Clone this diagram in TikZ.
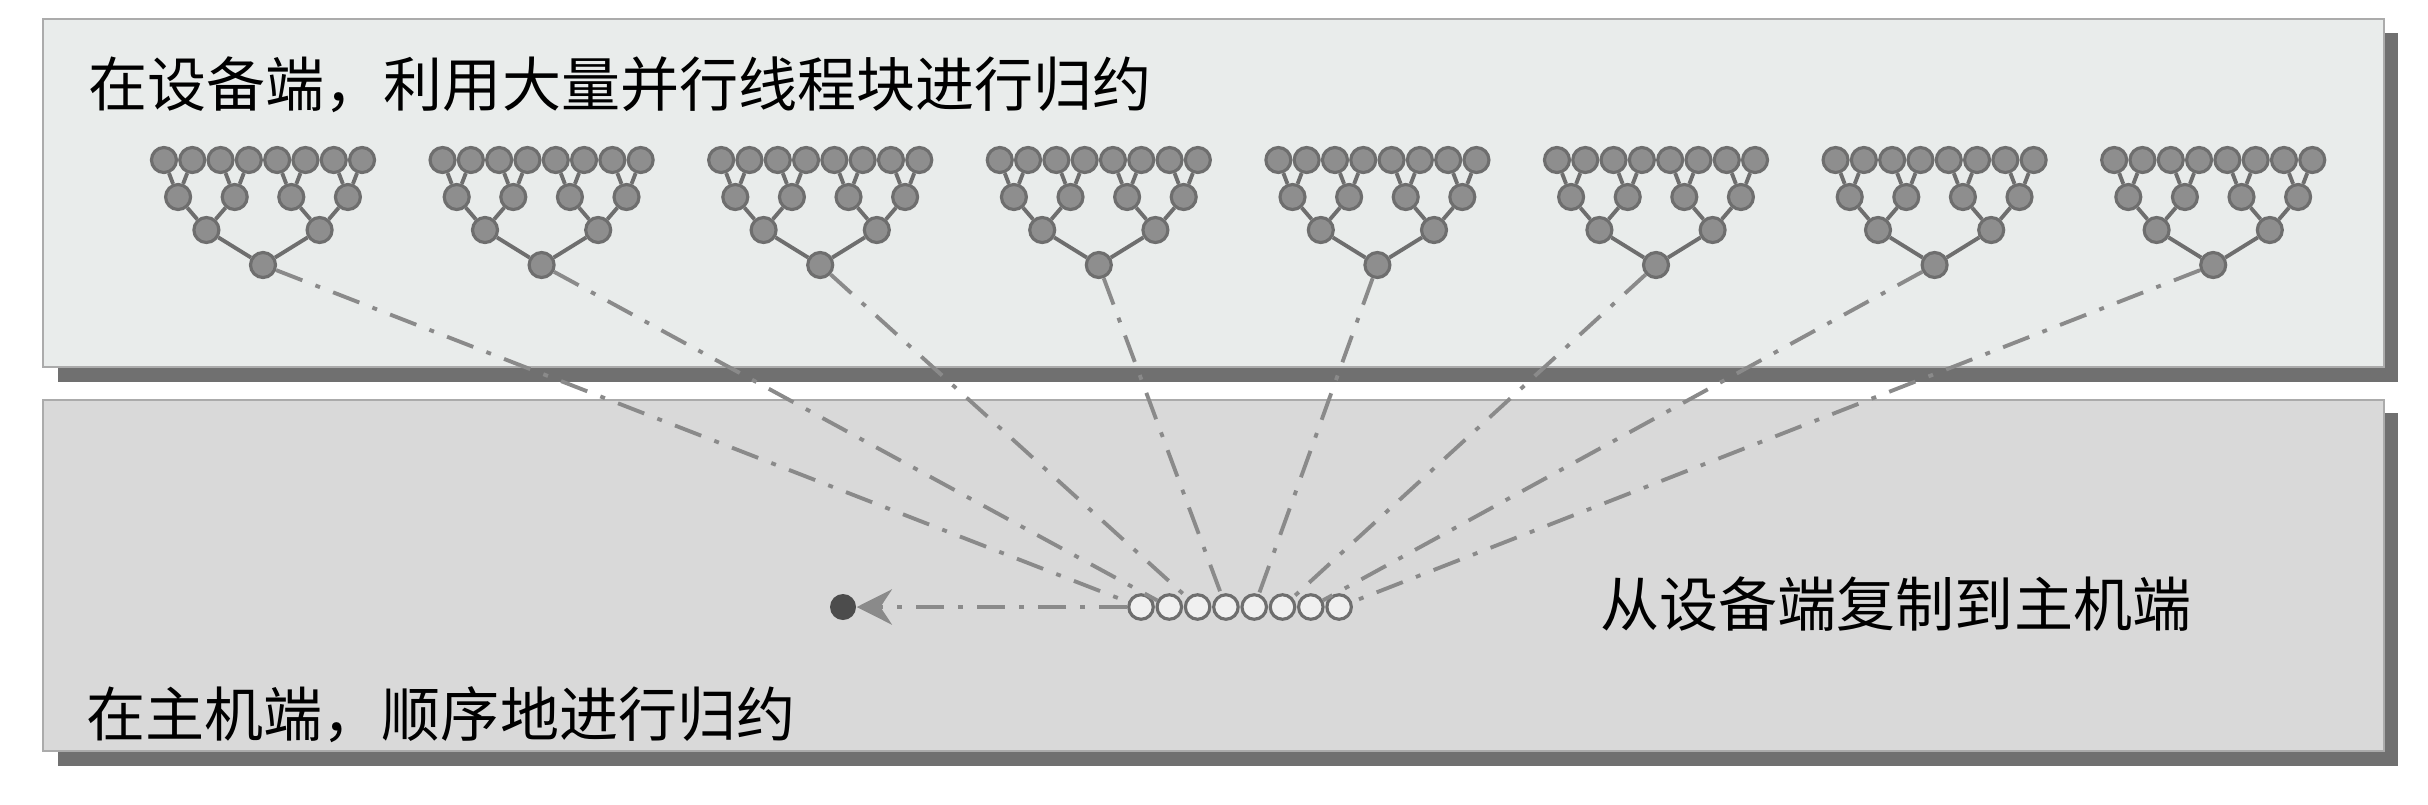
\documentclass[tikz,border=0pt]{standalone}
\usepackage{fontspec}
\newfontfamily\cjk{Noto Sans CJK SC}
\usepackage{tikz}
\usetikzlibrary{arrows.meta,calc}

\definecolor{devfill}{HTML}{E9ECEB}
\definecolor{hostfill}{HTML}{D9D9D9}
\definecolor{edgegray}{HTML}{ABABAB}
\definecolor{shadowgray}{HTML}{707070}
\definecolor{nodegray}{HTML}{8E8E8E}
\definecolor{linegray}{HTML}{6E6E6E}
\definecolor{copygray}{HTML}{8A8A8A}

\tikzset{
    panel/.style={draw=edgegray, line width=0.8pt},
    shade/.style={fill=shadowgray, draw=none},
    tnode/.style={circle, draw=linegray, fill=nodegray, line width=0.9pt, inner sep=0pt, minimum size=0.25cm},
    hnode/.style={circle, draw=linegray, fill=white!94!black, line width=0.9pt, inner sep=0pt, minimum size=0.245cm},
    tedge/.style={draw=linegray, line width=1.1pt},
    copyline/.style={draw=copygray, line width=1.1pt, dash pattern=on 8pt off 4pt on 1.4pt off 4pt},
    label/.style={font=\cjk\fontsize{16.8}{20}\selectfont, anchor=west, inner sep=0pt}
}

\begin{document}
\begin{tikzpicture}
    \useasboundingbox (0,0) rectangle (24.28,8.04);
    %%panels
    \fill[shade] (0.58,4.22) rectangle (23.98,7.71);
    \fill[devfill, panel] (0.43,4.37) rectangle (23.84,7.85);
    \fill[shade] (0.58,0.38) rectangle (23.98,3.91);
    \fill[hostfill, panel] (0.43,0.53) rectangle (23.84,4.04);
    %%texts
    \node[label] (devtext) at (0.88,7.19) {在设备端，利用大量并行线程块进行归约};
    \node[label] (hosttext) at (0.86,0.89) {在主机端，顺序地进行归约};
    \node[label] (copytext) at (16.0,2.0) {从设备端复制到主机端};
    %%trees
    \foreach \i in {1,...,8} {
        \pgfmathsetmacro{\cx}{2.63+2.786*(\i-1)}
        \foreach \j in {1,...,8}
            \node[tnode] (t\i-a\j) at ({\cx+(\j-4.5)*0.283},6.44) {};
        \foreach \j in {1,...,4}
            \node[tnode] (t\i-b\j) at ({\cx+(2*\j-5)*0.283},6.07) {};
        \foreach \j in {1,2}
            \node[tnode] (t\i-c\j) at ({\cx+(4*\j-6)*0.283},5.74) {};
        \node[tnode] (t\i-r) at (\cx,5.39) {};
        \foreach \j [evaluate=\j as \p using {int((\j+1)/2)}] in {1,...,8}
            \draw[tedge] (t\i-a\j) -- (t\i-b\p);
        \foreach \j [evaluate=\j as \p using {int((\j+1)/2)}] in {1,...,4}
            \draw[tedge] (t\i-b\j) -- (t\i-c\p);
        \draw[tedge] (t\i-c1) -- (t\i-r) -- (t\i-c2);
    }
    %%host side
    \foreach \i in {1,...,8}
        \node[hnode] (h\i) at ({11.41+0.283*(\i-1)},1.97) {};
    \node[circle, fill=black!70, inner sep=0pt, minimum size=0.26cm] (hdot) at (8.43,1.97) {};
    %%copy lines
    \foreach \i in {1,...,8}
        \draw[copyline] (t\i-r) -- (h\i);
    \draw[copyline, line width=1.4pt, -{Stealth[length=10pt, width=10pt, fill=copygray]}] (h1) -- (hdot);
\end{tikzpicture}
\end{document}
